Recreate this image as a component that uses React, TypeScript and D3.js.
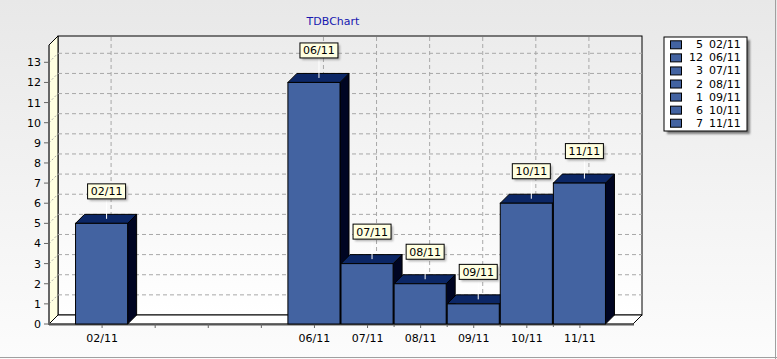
import React from "react";
import * as d3 from "d3";

const labels = ["02/11", "06/11", "07/11", "08/11", "09/11", "10/11", "11/11"];
const days = [2, 6, 7, 8, 9, 10, 11];
const values = [5, 12, 3, 2, 1, 6, 7];
const yTicks = [0, 1, 2, 3, 4, 5, 6, 7, 8, 9, 10, 11, 12, 13];
const dayTicks = [2, 3, 4, 5, 6, 7, 7.5, 8, 8.5, 9, 9.5, 10, 10.5, 11];
const title = "TDBChart";

const W = 777;
const H = 359;
const D = 9; // 3D depth offset
const FONT = "DejaVu Sans, Verdana, sans-serif";

export default function App() {
  const x = d3.scaleLinear().domain([1, 12]).range([49, 633]);
  const y = d3.scaleLinear().domain([0, 13.86]).range([324, 45]);
  const x0 = x(1), x1 = x(12);
  const y0 = y(0), yTop = y(13.86);
  const front = "#4363a1";
  const topC = "#0c2766";
  const sideC = "#000522";

  const legX = 664, legY = 37, legW = 83, legH = 94;

  return (
    <svg width={W} height={H} style={{ position: "absolute", left: 0, top: 0 }} fontFamily={FONT}>
      <defs>
        <linearGradient id="panel" x1="0" y1="0" x2="0" y2="1">
          <stop offset="0" stopColor="#e8e8e8" />
          <stop offset="1" stopColor="#fcfcfc" />
        </linearGradient>
        <linearGradient id="wall" x1="0" y1="0" x2="0" y2="1">
          <stop offset="0" stopColor="#ececec" />
          <stop offset="1" stopColor="#ffffff" />
        </linearGradient>
        <filter id="blur" x="-20%" y="-20%" width="140%" height="140%">
          <feGaussianBlur stdDeviation="1.2" />
        </filter>
      </defs>
      <rect x={0} y={0} width={W} height={H} fill="url(#panel)" />
      <line x1={0} y1={H - 1.5} x2={W} y2={H - 1.5} stroke="#a0a0a0" />
      <line x1={W - 1.5} y1={0} x2={W - 1.5} y2={H} stroke="#a0a0a0" />

      <text x={333} y={25} textAnchor="middle" fontSize={11} fill="#1818b0">{title}</text>

      {/* back wall */}
      <rect x={x0 + D} y={yTop - D} width={x1 - x0} height={y0 - yTop} fill="url(#wall)" stroke="#000" strokeWidth={1} />
      {/* left wall */}
      <polygon points={`${x0},${yTop} ${x0 + D},${yTop - D} ${x0 + D},${y0 - D} ${x0},${y0}`} fill="#ffffe1" stroke="#000" strokeWidth={1} />
      {/* floor */}
      <polygon points={`${x0},${y0} ${x0 + D},${y0 - D} ${x1 + D},${y0 - D} ${x1},${y0}`} fill="#ffffff" stroke="#000" strokeWidth={1} />

      {/* horizontal gridlines */}
      {yTicks.filter(t => t > 0).map(t => (
        <g key={"gh" + t}>
          <line x1={x0 + D} x2={x1 + D} y1={y(t) - D} y2={y(t) - D} stroke="#a8a8a8" strokeDasharray="4,3" />
          <line x1={x0} x2={x0 + D} y1={y(t)} y2={y(t) - D} stroke="#a8a8a8" strokeDasharray="2,2" />
        </g>
      ))}
      {/* vertical gridlines at labelled dates */}
      {days.map(d => (
        <line key={"gv" + d} x1={x(d) + D} x2={x(d) + D} y1={yTop - D + 1} y2={y0 - D} stroke="#a8a8a8" strokeDasharray="4,3" />
      ))}

      {/* axes */}
      <line x1={x0} x2={x0} y1={yTop} y2={y0 + 1} stroke="#666" strokeWidth={2} />
      <line x1={x0} x2={x1 + 1} y1={y0 + 0.5} y2={y0 + 0.5} stroke="#555" strokeWidth={2} />
      {yTicks.map(t => (
        <g key={"yt" + t}>
          <line x1={x0 - 5} x2={x0} y1={y(t)} y2={y(t)} stroke="#666" />
          <text x={41} y={y(t) + 4} textAnchor="end" fontSize={11} fill="#000">{t}</text>
        </g>
      ))}
      {dayTicks.map(d => (
        <line key={"xt" + d} x1={x(d)} x2={x(d)} y1={y0} y2={y0 + (Number.isInteger(d) ? 4 : 3)} stroke="#666" />
      ))}
      {labels.map((l, i) => (
        <text key={"xl" + i} x={x(days[i])} y={342} textAnchor="middle" fontSize={11} fill="#000">{l}</text>
      ))}

      {/* bars */}
      {values.map((v, i) => {
        const l = x(days[i] - 0.5);
        const r = x(days[i] + 0.5) - 1;
        const t = y(v);
        return (
          <g key={"b" + i} stroke="#000" strokeWidth={1}>
            <polygon points={`${r},${t} ${r + D},${t - D} ${r + D},${y0 - D} ${r},${y0}`} fill={sideC} />
            <polygon points={`${l},${t} ${l + D},${t - D} ${r + D},${t - D} ${r},${t}`} fill={topC} />
            <rect x={l} y={t} width={r - l} height={y0 - t} fill={front} />
          </g>
        );
      })}

      {/* marks */}
      {values.map((v, i) => {
        const cx = x(days[i]) + D / 2;
        const ty = y(v) - D / 2;
        const bb = ty - 20;
        const bw = 38, bh = 15;
        return (
          <g key={"m" + i}>
            <line x1={cx} x2={cx} y1={ty} y2={bb} stroke="#fff" strokeWidth={1} />
            <rect x={cx - bw / 2 + 2} y={bb - bh + 2} width={bw} height={bh} fill="#666" opacity={0.5} filter="url(#blur)" />
            <rect x={cx - bw / 2} y={bb - bh} width={bw} height={bh} fill="#ffffe1" stroke="#000" strokeWidth={1} />
            <text x={cx} y={bb - 3.5} textAnchor="middle" fontSize={11} fill="#000">{labels[i]}</text>
          </g>
        );
      })}

      {/* legend */}
      <rect x={legX + 3} y={legY + 3} width={legW} height={legH} fill="#333" opacity={0.6} filter="url(#blur)" />
      <rect x={legX} y={legY} width={legW} height={legH} fill="#fff" stroke="#000" strokeWidth={1} />
      {values.map((v, i) => {
        const ry = 44.3 + i * 13.07;
        return (
          <g key={"lg" + i}>
            <rect x={670.5} y={ry - 3.5} width={11} height={8} fill={front} stroke="#000" strokeWidth={1} />
            <text x={703} y={ry + 4} textAnchor="end" fontSize={11} fill="#000">{v}</text>
            <text x={709} y={ry + 4} textAnchor="start" fontSize={11} fill="#000">{labels[i]}</text>
          </g>
        );
      })}
    </svg>
  );
}
